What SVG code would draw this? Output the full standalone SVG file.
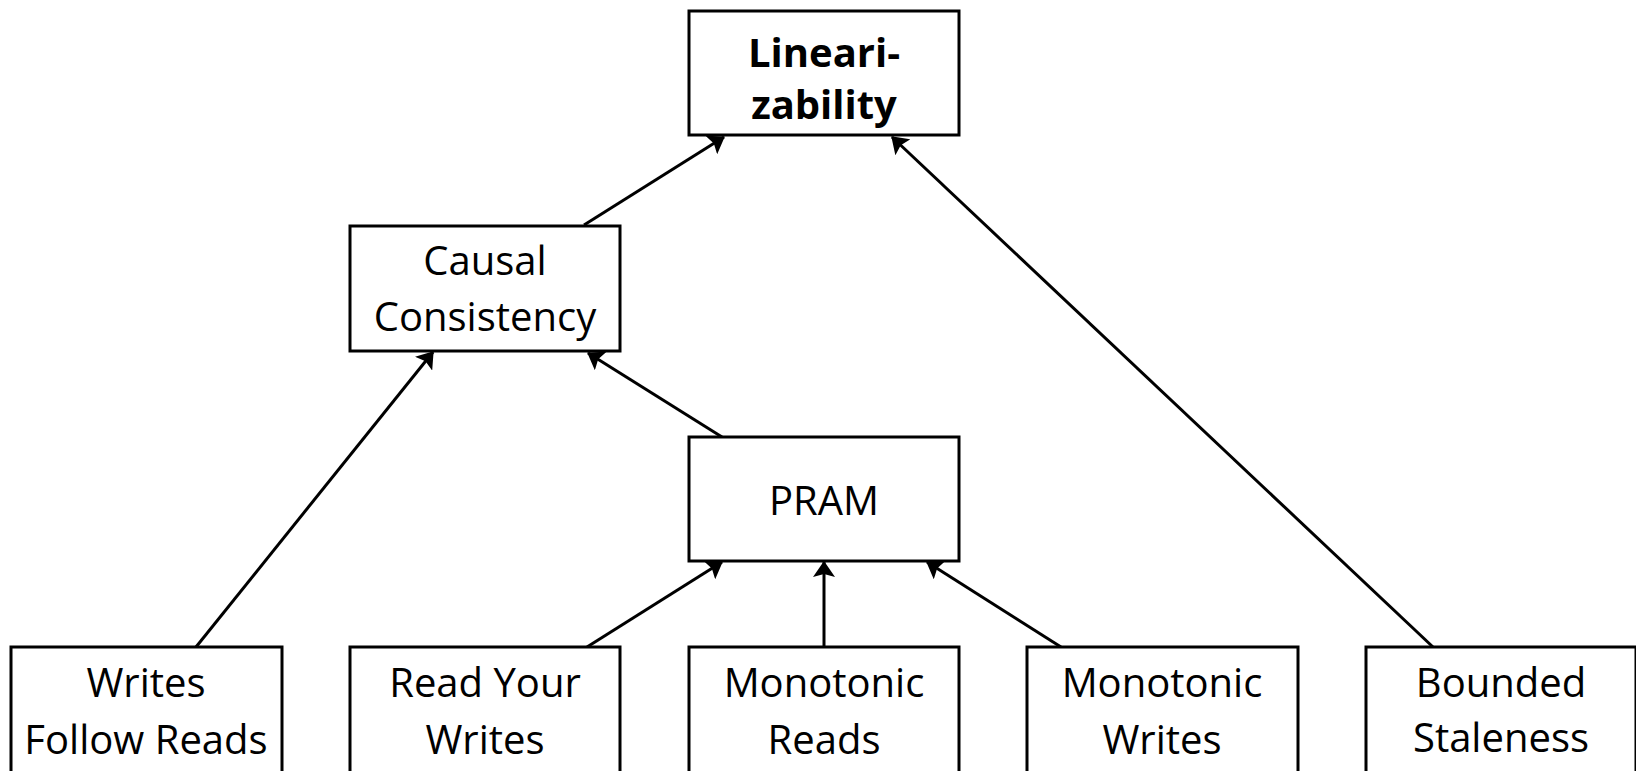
<svg xmlns="http://www.w3.org/2000/svg" width="1636" height="771" viewBox="0 0 1636 771">
  <defs>
    <marker id="arrow" markerUnits="userSpaceOnUse" markerWidth="16" markerHeight="22" refX="15" refY="11" orient="auto">
      <path d="M0,0 L16,11 L0,22 L3,11 Z" fill="#000"/>
    </marker>
    <style>
      .box { fill: #fff; stroke: #000; stroke-width: 3; }
      .lbl { font-family: "Open Sans", "Liberation Sans", sans-serif; font-size: 40px; fill: #000; text-anchor: middle; }
      .bold { font-weight: bold; }
      .edge { stroke: #000; stroke-width: 3; fill: none; marker-end: url(#arrow); }
    </style>
  </defs>
  <rect width="1636" height="771" fill="#fff"/>

  <!-- arrows point from the weaker model up to the stronger one -->
  <g id="connectors">
    <line class="edge" x1="584" y1="225" x2="724" y2="137"/>
    <line class="edge" x1="1433" y1="647" x2="892" y2="137"/>
    <line class="edge" x1="196" y1="647" x2="433" y2="352"/>
    <line class="edge" x1="722" y1="437" x2="588" y2="353"/>
    <line class="edge" x1="587" y1="647" x2="722" y2="562"/>
    <line class="edge" x1="824" y1="647" x2="824" y2="562"/>
    <line class="edge" x1="1061" y1="647" x2="927" y2="562"/>
  </g>

  <g id="linearizability">
    <rect class="box" x="689" y="11" width="270" height="124"/>
    <text class="lbl bold" x="824" y="67">Lineari-</text>
    <text class="lbl bold" x="824" y="119">zability</text>
  </g>

  <g id="causal-consistency">
    <rect class="box" x="350" y="226" width="270" height="125"/>
    <text class="lbl" x="485" y="275">Causal</text>
    <text class="lbl" x="485" y="331">Consistency</text>
  </g>

  <g id="pram">
    <rect class="box" x="689" y="437" width="270" height="124"/>
    <text class="lbl" x="824" y="515">PRAM</text>
  </g>

  <g id="writes-follow-reads">
    <rect class="box" x="11" y="647" width="271" height="130"/>
    <text class="lbl" x="146" y="697">Writes</text>
    <text class="lbl" x="146" y="754">Follow Reads</text>
  </g>

  <g id="read-your-writes">
    <rect class="box" x="350" y="647" width="270" height="130"/>
    <text class="lbl" x="485" y="697">Read Your</text>
    <text class="lbl" x="485" y="754">Writes</text>
  </g>

  <g id="monotonic-reads">
    <rect class="box" x="689" y="647" width="270" height="130"/>
    <text class="lbl" x="824" y="697">Monotonic</text>
    <text class="lbl" x="824" y="754">Reads</text>
  </g>

  <g id="monotonic-writes">
    <rect class="box" x="1027" y="647" width="271" height="130"/>
    <text class="lbl" x="1162" y="697">Monotonic</text>
    <text class="lbl" x="1162" y="754">Writes</text>
  </g>

  <g id="bounded-staleness">
    <rect class="box" x="1366" y="647" width="270" height="130"/>
    <text class="lbl" x="1501" y="697">Bounded</text>
    <text class="lbl" x="1501" y="752">Staleness</text>
  </g>
</svg>
